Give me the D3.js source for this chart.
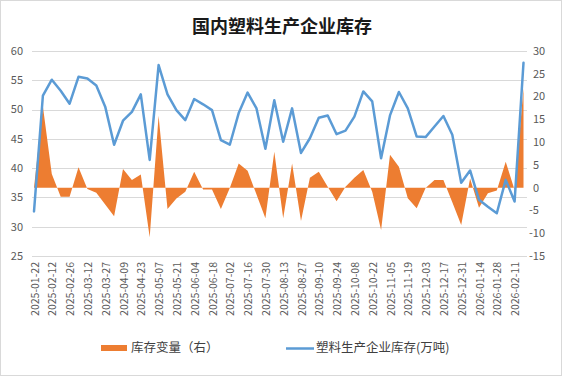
<!DOCTYPE html>
<html><head><meta charset="utf-8">
<script src="https://cdn.jsdelivr.net/npm/d3@7"></script>
<style>
html,body{margin:0;padding:0;background:#fff;}
svg{display:block;font-family:"Noto Sans CJK SC","Noto Sans",sans-serif;}
</style></head>
<body><svg id="c" width="562" height="376"></svg>
<script>
const dates = ["2025-01-22","2025-02-05","2025-02-12","2025-02-19","2025-02-26","2025-03-05","2025-03-12","2025-03-19","2025-03-27","2025-04-02","2025-04-09","2025-04-16","2025-04-23","2025-04-30","2025-05-07","2025-05-14","2025-05-21","2025-05-28","2025-06-04","2025-06-11","2025-06-18","2025-06-25","2025-07-02","2025-07-09","2025-07-16","2025-07-23","2025-07-30","2025-08-06","2025-08-13","2025-08-20","2025-08-27","2025-09-03","2025-09-10","2025-09-17","2025-09-24","2025-09-30","2025-10-08","2025-10-15","2025-10-22","2025-10-29","2025-11-05","2025-11-12","2025-11-19","2025-11-26","2025-12-03","2025-12-10","2025-12-17","2025-12-24","2025-12-31","2026-01-07","2026-01-14","2026-01-21","2026-01-28","2026-02-04","2026-02-11","2026-02-18"];
const inventory = [32.6,52.4,55.1,53.2,51.0,55.6,55.3,54.1,50.5,44.0,48.1,49.6,52.6,41.4,57.6,52.6,49.9,48.2,51.8,50.9,49.9,44.8,44.0,49.4,52.9,50.2,43.3,51.6,44.5,50.2,42.6,45.1,48.6,49.0,45.8,46.4,48.8,53.1,51.4,41.7,49.0,53.0,50.2,45.4,45.3,47.1,48.9,45.7,37.5,39.6,34.6,33.4,32.3,38.0,34.3,58.0];
const change = [0,17.8,3.0,-2.0,-2.0,4.5,-0.3,-1.1,-3.7,-6.3,4.1,1.7,2.9,-10.9,15.8,-4.7,-2.4,-0.9,3.5,-0.4,-0.4,-4.7,-0.1,5.3,3.7,-1.5,-6.7,7.9,-6.7,5.3,-7.3,2.2,3.5,0.2,-3.0,0.2,2.2,3.9,-0.9,-9.3,7.2,4.6,-2.3,-4.5,-0.1,1.7,1.7,-3.2,-8.2,2.0,-4.4,-1.2,-0.6,5.7,-0.5,21.8];
const leftTicks = [25,30,35,40,45,50,55,60];
const rightTicks = [-15,-10,-5,0,5,10,15,20,25,30];
const labelDates = dates.filter((d,i)=>i%2===0);
const title = "国内塑料生产企业库存";
const legendBar = "库存变量（右）";
const legendLine = "塑料生产企业库存(万吨)";

const svg = d3.select("#c");
svg.append("rect").attr("x",0.5).attr("y",0.5).attr("width",561).attr("height",375)
  .attr("fill","#fff").attr("stroke","#d9d9d9");

const L=32, R=527, T=51, B=256;
const x = d3.scalePoint().domain(dates).range([34,523.5]);
const yL = d3.scaleLinear().domain([25,60]).range([B,T]);
const yR = d3.scaleLinear().domain([-15,30]).range([B,T]);

// gridlines
svg.append("g").selectAll("line").data(leftTicks).join("line")
  .attr("x1",L).attr("x2",R).attr("y1",d=>Math.round(yL(d))+0.5).attr("y2",d=>Math.round(yL(d))+0.5)
  .attr("stroke","#d9d9d9").attr("stroke-width",1);

// left axis labels
svg.append("g").selectAll("text").data(leftTicks).join("text")
  .attr("x",23).attr("y",d=>yL(d)).attr("dy","0.35em").attr("text-anchor","end")
  .attr("font-size",11).attr("fill","#595959").text(d=>d);

// right axis labels
svg.append("g").selectAll("text").data(rightTicks).join("text")
  .attr("x",d=>d<0?529:533).attr("y",d=>yR(d)).attr("dy","0.35em").attr("text-anchor","start")
  .attr("font-size",11).attr("fill","#595959").text(d=>d);

// area
const area = d3.area().x((d,i)=>x(dates[i])).y0(yR(0)).y1(d=>yR(d));
svg.append("path").datum(change).attr("d",area).attr("fill","#ed7d31");

// line
const line = d3.line().x((d,i)=>x(dates[i])).y(d=>yL(d));
svg.append("path").datum(inventory).attr("d",line).attr("fill","none")
  .attr("stroke","#5b9bd5").attr("stroke-width",2.5).attr("stroke-linejoin","round").attr("stroke-linecap","round");

// x labels
svg.append("g").selectAll("text").data(labelDates).join("text")
  .attr("transform",d=>`translate(${x(d)+1},262) rotate(-90)`)
  .attr("dy","0.35em").attr("text-anchor","end")
  .attr("font-size",10.5).attr("fill","#595959").text(d=>d);

// title
svg.append("text").attr("x",282).attr("y",33).attr("text-anchor","middle")
  .attr("font-size",18).attr("font-weight","bold").attr("fill","#1a1a1a").text(title);

// legend
svg.append("rect").attr("x",101).attr("y",345).attr("width",26).attr("height",6).attr("fill","#ed7d31");
svg.append("text").attr("x",131).attr("y",348).attr("dy","0.35em").attr("font-size",12.5)
  .attr("fill","#404040").text(legendBar);
svg.append("line").attr("x1",286).attr("x2",314).attr("y1",348.5).attr("y2",348.5)
  .attr("stroke","#5b9bd5").attr("stroke-width",2.5);
svg.append("text").attr("x",316).attr("y",348).attr("dy","0.35em").attr("font-size",12.5)
  .attr("fill","#404040").text(legendLine);
</script></body></html>
